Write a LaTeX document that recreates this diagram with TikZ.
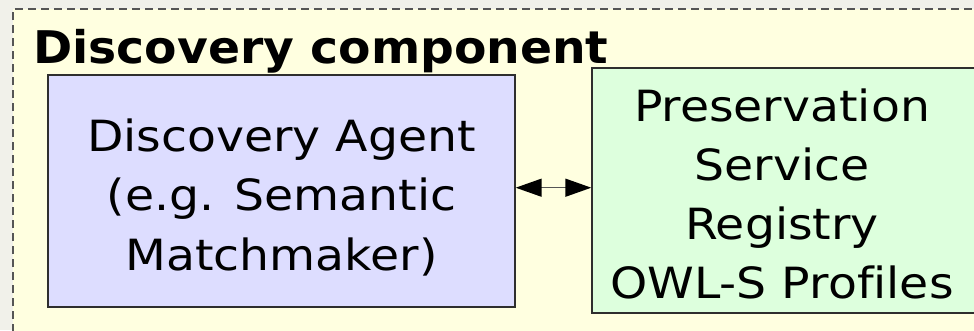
\documentclass[tikz,border=0pt]{standalone}
\usepackage{fontspec}
\setmainfont{DejaVu Sans}[FakeStretch=1.1, Ligatures={NoCommon}]
\newfontfamily\titlefont{DejaVu Sans}[FakeStretch=1.05, Ligatures={NoCommon}]
\usetikzlibrary{arrows.meta}
\definecolor{outerbg}{HTML}{F1F1EA}
\definecolor{innerbg}{HTML}{FFFFE0}
\definecolor{agentfill}{HTML}{DDDDFF}
\definecolor{regfill}{HTML}{DDFFDD}
\definecolor{dashgray}{HTML}{555555}
\definecolor{boxline}{HTML}{2E2E2E}
\tikzset{
  box/.style={draw=boxline, line width=1.4pt, inner sep=0pt},
  bodytext/.style={anchor=base, inner sep=0pt, font=\fontsize{43}{59}\selectfont},
  titletext/.style={anchor=base west, inner sep=0pt, font=\titlefont\bfseries\fontsize{45}{54}\selectfont},
  link/.style={draw=dashgray, line width=1.5pt, {Triangle[length=26pt,width=18pt,black]}-{Triangle[length=26pt,width=18pt,black]}}
}
\begin{document}
\begin{tikzpicture}[x=1pt,y=-1pt]
\useasboundingbox (0,0) rectangle (974,330);
\clip (0,0) rectangle (974,330);
\fill[outerbg] (0,0) rectangle (974,330);
\fill[innerbg] (13,9) rectangle (990,345);
\draw[dashgray, line width=1.1pt, dash pattern=on 8pt off 5pt] (13,345) -- (13,9) -- (990,9);
\node[titletext] (title) at (33,63) {Discovery component};
\node[box, fill=agentfill, minimum width=467pt, minimum height=232pt] (agent) at (281.5,191) {};
\node[box, fill=regfill, minimum width=390pt, minimum height=245pt] (registry) at (787,190.5) {};
\node[bodytext] (a1) at (281.5,151) {Discovery Agent};
\node[bodytext] (a2) at (281.5,210) {(e.g. Semantic};
\node[bodytext] (a3) at (281.5,270) {Matchmaker)};
\node[bodytext] (r1) at (782,121) {Preservation};
\node[bodytext] (r2) at (782,180) {Service};
\node[bodytext] (r3) at (782,239) {Registry};
\node[bodytext] (r4) at (782,298) {OWL-S Profiles};
\coordinate (ay) at (0,187.7);
\draw[link] (agent.east |- ay) -- (registry.west |- ay);
\end{tikzpicture}
\end{document}
